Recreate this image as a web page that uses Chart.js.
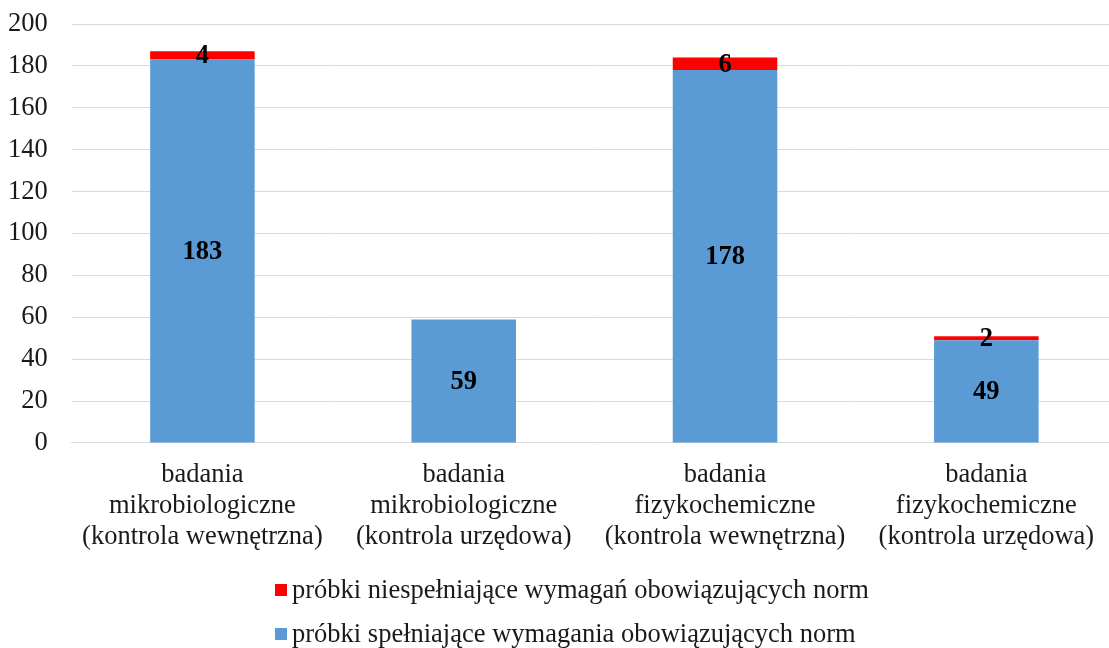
<!DOCTYPE html>
<html>
<head>
<meta charset="utf-8">
<script src="https://cdn.jsdelivr.net/npm/chart.js@4/dist/chart.umd.min.js"></script>
<style>
html,body{margin:0;padding:0;background:#fff;overflow:hidden;}
#wrap{position:absolute;left:-24px;top:0;width:1144px;height:648px;}
</style>
</head>
<body>
<div id="wrap"><canvas id="c" width="1144" height="648"></canvas></div>
<script>
const categories = [
  ["badania", "mikrobiologiczne", "(kontrola wewnętrzna)"],
  ["badania", "mikrobiologiczne", "(kontrola urzędowa)"],
  ["badania", "fizykochemiczne", "(kontrola wewnętrzna)"],
  ["badania", "fizykochemiczne", "(kontrola urzędowa)"]
];
const compliant = [183, 59, 178, 49];
const nonCompliant = [4, 0, 6, 2];
const seriesNames = [
  "próbki spełniające wymagania obowiązujących norm",
  "próbki niespełniające wymagań obowiązujących norm"
];
const seriesColors = ['#5B9BD5', '#FF0000'];
const yTicks = [0, 20, 40, 60, 80, 100, 120, 140, 160, 180, 200];

const FONT = "'Liberation Serif', 'Times New Roman', serif";
const FS = 26.5;

const labelPlugin = {
  id: 'segLabels',
  afterDatasetsDraw(chart) {
    const ctx = chart.ctx;
    ctx.save();
    ctx.font = "bold " + FS + "px " + FONT;
    ctx.fillStyle = "#000";
    ctx.textAlign = "center";
    ctx.textBaseline = "middle";
    chart.data.datasets.forEach((ds, di) => {
      const meta = chart.getDatasetMeta(di);
      meta.data.forEach((bar, i) => {
        const v = ds.data[i];
        if (!v) return;
        const y = (bar.y + bar.base) / 2;
        ctx.fillText(String(v), bar.x, y + 1);
      });
    });
    ctx.restore();
  }
};

const legendPlugin = {
  id: 'customLegend',
  afterDraw(chart) {
    const ctx = chart.ctx;
    ctx.save();
    ctx.font = FS + "px " + FONT;
    ctx.textBaseline = "middle";
    ctx.textAlign = "left";
    const order = [1, 0];
    const rowsY = [590, 634];
    const startX = 299;
    order.forEach((di, r) => {
      const ds = chart.data.datasets[di];
      ctx.fillStyle = ds.backgroundColor;
      ctx.fillRect(startX, rowsY[r] - 6, 12, 12);
      ctx.fillStyle = '#1a1a1a';
      ctx.fillText(ds.label, startX + 17, rowsY[r] + 1);
    });
    ctx.restore();
  }
};

new Chart(document.getElementById('c'), {
  type: 'bar',
  data: {
    labels: categories,
    datasets: [
      { label: seriesNames[0], data: compliant, backgroundColor: seriesColors[0], borderWidth: 0 },
      { label: seriesNames[1], data: nonCompliant, backgroundColor: seriesColors[1], borderWidth: 0 }
    ]
  },
  options: {
    responsive: false,
    animation: false,
    datasets: { bar: { categoryPercentage: 1.0, barPercentage: 0.4 } },
    layout: { padding: { top: 24, left: 8, right: 3, bottom: 78 } },
    scales: {
      x: {
        stacked: true,
        grid: { display: false, drawTicks: false },
        border: { display: true, color: '#D9D9D9' },
        ticks: { color: '#1a1a1a', font: { family: FONT, size: FS, lineHeight: 1.17 }, padding: 17, maxRotation: 0, autoSkip: false }
      },
      y: {
        stacked: true,
        min: 0,
        max: 200,
        afterBuildTicks(axis) { axis.ticks = yTicks.map(v => ({ value: v })); },
        afterFit(axis) { axis.paddingTop = 0; axis.paddingBottom = 0; },
        grid: { color: '#D9D9D9', drawTicks: false },
        border: { display: false },
        ticks: { color: '#1a1a1a', font: { family: FONT, size: FS }, padding: 24 }
      }
    },
    plugins: {
      legend: { display: false },
      tooltip: { enabled: false }
    }
  },
  plugins: [labelPlugin, legendPlugin]
});
</script>
</body>
</html>
